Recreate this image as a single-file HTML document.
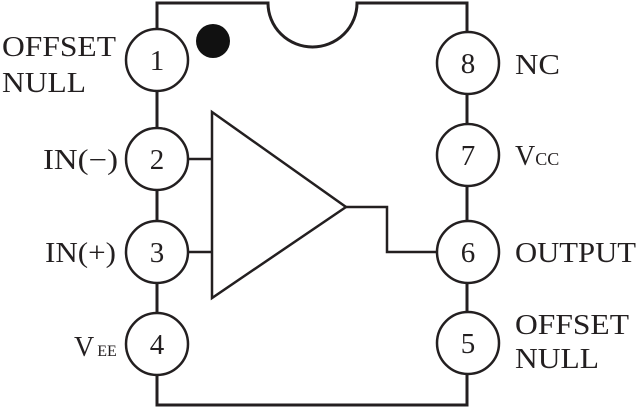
<!DOCTYPE html>
<html><head><meta charset="utf-8"><style>
html,body{margin:0;padding:0;background:#fff;}
svg{display:block;}
text{font-family:"Liberation Serif",serif;fill:#231f20;}
</style></head><body>
<svg width="638" height="409" viewBox="0 0 638 409" xmlns="http://www.w3.org/2000/svg">
<g fill="none" stroke="#231f20" stroke-width="3">
<path d="M157,405 V3 H268 A44.5,44 0 0 0 357,3 H467 V405 Z"/>
</g>
<g fill="none" stroke="#231f20" stroke-width="2.5">
<polygon points="212,112 212,298 346,207" stroke-linejoin="miter"/>
<polyline points="188,159 212,159"/>
<polyline points="188,252 212,252"/>
<polyline points="346,207 387,207 387,252 437,252"/>
</g>
<circle cx="213" cy="41" r="17" fill="#111"/>
<g fill="#fff" stroke="#231f20" stroke-width="2.5">
<circle cx="157" cy="60" r="31"/>
<circle cx="157" cy="159" r="31"/>
<circle cx="157" cy="252" r="31"/>
<circle cx="157" cy="344" r="31"/>
<circle cx="468" cy="63" r="31"/>
<circle cx="468" cy="155" r="31"/>
<circle cx="468" cy="252" r="31"/>
<circle cx="468" cy="343" r="31"/>
</g>
<g font-size="29" text-anchor="middle">
<text x="157" y="70">1</text>
<text x="157" y="169">2</text>
<text x="157" y="262">3</text>
<text x="157" y="354">4</text>
<text x="468" y="73">8</text>
<text x="468" y="165">7</text>
<text x="468" y="262">6</text>
<text x="468" y="353">5</text>
</g>
<g font-size="28">
<text x="2" y="56" textLength="114" lengthAdjust="spacingAndGlyphs">OFFSET</text>
<text x="2" y="92" textLength="84" lengthAdjust="spacingAndGlyphs">NULL</text>
<text x="43" y="169" textLength="75" lengthAdjust="spacingAndGlyphs">IN(−)</text>
<text x="45" y="262" textLength="71" lengthAdjust="spacingAndGlyphs">IN(+)</text>
<text x="74" y="356">V<tspan font-size="16" dx="3">EE</tspan></text>
<text x="515" y="74" textLength="45" lengthAdjust="spacingAndGlyphs">NC</text>
<text x="515" y="165">V<tspan font-size="18">CC</tspan></text>
<text x="515" y="262" textLength="121" lengthAdjust="spacingAndGlyphs">OUTPUT</text>
<text x="515" y="334" textLength="114" lengthAdjust="spacingAndGlyphs">OFFSET</text>
<text x="515" y="368" textLength="84" lengthAdjust="spacingAndGlyphs">NULL</text>
</g>
</svg>
</body></html>
